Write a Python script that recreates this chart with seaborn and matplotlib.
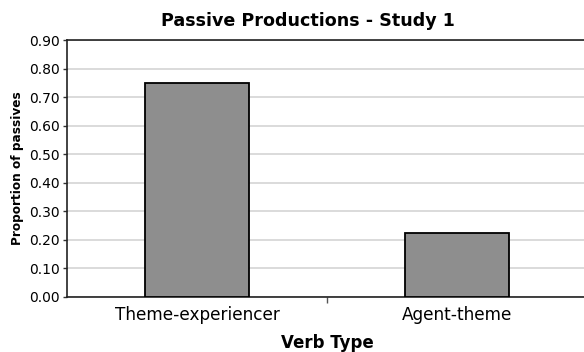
import matplotlib
matplotlib.use("Agg")
import matplotlib.pyplot as plt
import seaborn as sns
import pandas as pd
import numpy as np

verb_types = ["Theme-experiencer", "Agent-theme"]
proportions = [0.75, 0.225]
y_ticks = [0.0, 0.1, 0.2, 0.3, 0.4, 0.5, 0.6, 0.7, 0.8, 0.9]

df = pd.DataFrame({"Verb Type": verb_types, "Proportion": proportions})

sns.set_theme(style="white")
plt.rcParams["font.family"] = ["DejaVu Sans"]
plt.rcParams["text.color"] = "black"
plt.rcParams["axes.labelcolor"] = "black"
plt.rcParams["xtick.color"] = "black"
plt.rcParams["ytick.color"] = "black"

fig = plt.figure(figsize=(5.84, 3.52), dpi=100)
ax = fig.add_axes([67 / 584, (352 - 296.7) / 352, 520 / 584, 256.4 / 352])

sns.barplot(data=df, x="Verb Type", y="Proportion", ax=ax, color="#8e8e8e",
            saturation=1, width=0.4, edgecolor="black", linewidth=1.3, zorder=3)

ax.set_xlim(-0.5, 1.5)
ax.set_ylim(0, 0.9)
ax.set_yticks(y_ticks)
ax.set_yticklabels([f"{v:.2f}" for v in y_ticks], fontsize=10)
ax.yaxis.grid(True, color="#d4d4d4", linewidth=1.2, zorder=0)
ax.set_axisbelow(True)

ax.set_xticks([0, 1])
ax.set_xticklabels(verb_types, fontsize=12.2)
ax.tick_params(axis="x", length=0, pad=7)
ax.set_xticks([0.5], minor=True)
ax.tick_params(axis="x", which="minor", length=4, width=1, color="#555555", direction="out", bottom=True)
ax.tick_params(axis="y", length=3, width=1, color="#333333", direction="out", left=True, pad=2)

for side in ["top", "left", "bottom"]:
    ax.spines[side].set_visible(True)
    ax.spines[side].set_color("#222222")
    ax.spines[side].set_linewidth(1.2)
ax.spines["right"].set_visible(False)

ax.set_xlabel("Verb Type", fontsize=12, fontweight="bold", labelpad=7)
ax.set_ylabel("Proportion of passives", fontsize=8.7, fontweight="bold", labelpad=4)
ax.set_title("Passive Productions - Study 1", fontsize=12.6, fontweight="bold",
             pad=10, x=0.463)

fig.savefig("out.png", dpi=100)
